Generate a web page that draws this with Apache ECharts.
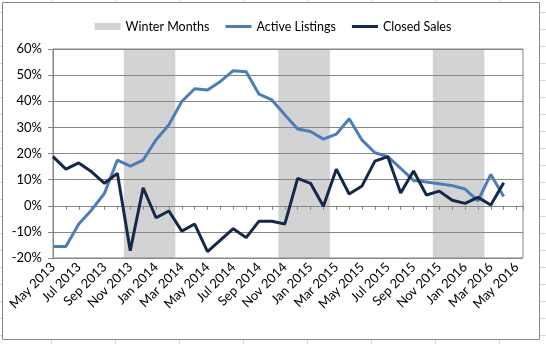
<!DOCTYPE html>
<html>
<head>
<meta charset="utf-8">
<title>Year-over-year change: Active Listings vs Closed Sales</title>
<script src="https://cdn.jsdelivr.net/npm/echarts@6/dist/echarts.min.js"></script>
<style>
  html, body { margin: 0; padding: 0; background: #ffffff; }
  #chart { width: 546px; height: 344px; }
</style>
</head>
<body>
<div id="chart"></div>
<script>
// Monthly categories, May 2013 through May 2016
const months = [
  'May 2013', 'Jun 2013', 'Jul 2013', 'Aug 2013', 'Sep 2013', 'Oct 2013', 'Nov 2013', 'Dec 2013',
  'Jan 2014', 'Feb 2014', 'Mar 2014', 'Apr 2014', 'May 2014', 'Jun 2014', 'Jul 2014', 'Aug 2014',
  'Sep 2014', 'Oct 2014', 'Nov 2014', 'Dec 2014', 'Jan 2015', 'Feb 2015', 'Mar 2015', 'Apr 2015',
  'May 2015', 'Jun 2015', 'Jul 2015', 'Aug 2015', 'Sep 2015', 'Oct 2015', 'Nov 2015', 'Dec 2015',
  'Jan 2016', 'Feb 2016', 'Mar 2016', 'Apr 2016', 'May 2016'
];

// Year-over-year change, percent (May 2013 - Apr 2016)
const activeListings = [
  -15.6, -15.6, -7.0, -1.6, 4.8, 17.5, 15.2, 17.5, 25.2, 31.0, 39.9, 44.8,
  44.3, 47.6, 51.7, 51.3, 42.7, 40.5, 34.8, 29.4, 28.4, 25.5, 27.4, 33.3,
  25.1, 20.3, 18.8, 14.3, 9.7, 9.1, 8.4, 7.7, 6.4, 1.9, 12.0, 3.5
];
const closedSales = [
  18.8, 14.0, 16.4, 13.0, 8.6, 12.4, -17.2, 6.9, -4.6, -2.0, -9.7, -7.0,
  -17.6, -13.2, -8.8, -12.2, -5.9, -5.9, -7.0, 10.5, 8.6, -0.2, 14.0, 4.5,
  7.6, 17.1, 18.8, 4.9, 13.3, 4.1, 5.6, 2.1, 0.9, 3.2, 0.3, 8.8
];

// Winter seasons (first and last month of each shaded band)
const winterSeasons = [
  ['Nov 2013', 'Feb 2014'],
  ['Nov 2014', 'Feb 2015'],
  ['Nov 2015', 'Feb 2016']
];

// Value-axis range and tick labels
const yMin = -20, yMax = 60, yStep = 10;
const labelEvery = 2;

const FONT = 'Lato, "Open Sans", "Liberation Sans", sans-serif';
const AXIS_GRAY = '#868686';
const SHEET_GRAY = '#D9D9D9';
const SHADE = '#D3D3D3';
const BLUE = '#4A7EBB';
const NAVY = '#14294A';

const chart = echarts.init(document.getElementById('chart'), null, { renderer: 'canvas' });

const lastIndex = months.length - 1;
const xMax = lastIndex + 0.5;

// faint worksheet cell edges around the chart frame
const sheetLines = [];
[51.5, 115.5, 179.5, 243.5, 307.5, 371.5, 435.5, 499.5].forEach(function (x) {
  sheetLines.push({ type: 'line', silent: true, shape: { x1: x, y1: 0, x2: x, y2: 2 }, style: { stroke: SHEET_GRAY, lineWidth: 1 } });
  sheetLines.push({ type: 'line', silent: true, shape: { x1: x, y1: 340, x2: x, y2: 344 }, style: { stroke: SHEET_GRAY, lineWidth: 1 } });
});
[12.5, 29.5, 46.5, 63.5, 80.5, 97.5, 114.5, 131.5, 148.5, 165.5, 182.5, 199.5, 216.5, 233.5, 250.5, 267.5, 284.5, 301.5, 318.5, 335.5].forEach(function (y) {
  sheetLines.push({ type: 'line', silent: true, shape: { x1: 540, y1: y, x2: 546, y2: y }, style: { stroke: SHEET_GRAY, lineWidth: 1 } });
  sheetLines.push({ type: 'line', silent: true, shape: { x1: 0, y1: y, x2: 2, y2: y }, style: { stroke: SHEET_GRAY, lineWidth: 1 } });
});

const option = {
  animation: false,
  backgroundColor: '#ffffff',
  textStyle: { fontFamily: FONT },
  legend: {
    top: 15,
    left: 'center',
    itemWidth: 26,
    itemHeight: 7,
    itemGap: 16,
    textStyle: { fontFamily: FONT, fontSize: 12.5, color: '#000000' },
    data: [
      { name: 'Winter Months', icon: 'rect', itemStyle: { color: SHADE } },
      { name: 'Active Listings', icon: 'path://M0,0H26V3H0Z', itemStyle: { color: BLUE } },
      { name: 'Closed Sales', icon: 'path://M0,0H26V3H0Z', itemStyle: { color: NAVY } }
    ]
  },
  grid: {
    left: 53,
    right: 23,
    top: 49,
    bottom: 86,
    show: true,
    borderColor: AXIS_GRAY,
    borderWidth: 1,
    backgroundColor: 'transparent'
  },
  xAxis: [
    {
      // month axis drawn along the 0% line, carrying the tick marks
      type: 'value',
      min: 0,
      max: xMax,
      interval: 1,
      position: 'bottom',
      axisLine: { show: true, onZero: true, lineStyle: { color: AXIS_GRAY, width: 1 } },
      axisTick: { show: true, length: 4, lineStyle: { color: AXIS_GRAY } },
      axisLabel: { show: false },
      splitLine: { show: false }
    },
    {
      // month labels along the bottom of the plot
      type: 'value',
      min: 0,
      max: xMax,
      interval: 1,
      position: 'bottom',
      axisLine: { show: false, onZero: false },
      axisTick: { show: false },
      splitLine: { show: false },
      axisLabel: {
        show: true,
        rotate: 45,
        margin: 7,
        fontFamily: FONT,
        fontSize: 13,
        color: '#000000',
        showMinLabel: true,
        showMaxLabel: true,
        hideOverlap: false,
        formatter: function (v) {
          if (Math.abs(v - Math.round(v)) > 1e-6) return '';
          const i = Math.round(v);
          if (i < 0 || i > lastIndex || i % labelEvery !== 0) return '';
          return months[i];
        }
      }
    }
  ],
  yAxis: {
    type: 'value',
    min: yMin,
    max: yMax,
    interval: yStep,
    axisLine: { show: true, lineStyle: { color: AXIS_GRAY, width: 1 } },
    axisTick: { show: true, length: 5, lineStyle: { color: AXIS_GRAY } },
    splitLine: { show: true, lineStyle: { color: AXIS_GRAY, width: 1 } },
    axisLabel: {
      margin: 11,
      fontFamily: FONT,
      fontSize: 13,
      color: '#000000',
      formatter: function (v) { return v + '%'; }
    }
  },
  series: [
    {
      name: 'Winter Months',
      type: 'custom',
      xAxisIndex: 0,
      z: -1,
      silent: true,
      itemStyle: { color: SHADE },
      data: winterSeasons.map(function (s) {
        return [months.indexOf(s[0]), months.indexOf(s[1])];
      }),
      renderItem: function (params, api) {
        const p0 = api.coord([api.value(0) - 0.5, yMax]);
        const p1 = api.coord([api.value(1) + 0.5, yMin]);
        return {
          type: 'rect',
          shape: { x: p0[0], y: p0[1], width: p1[0] - p0[0], height: p1[1] - p0[1] },
          style: { fill: SHADE }
        };
      }
    },
    {
      name: 'Active Listings',
      type: 'line',
      xAxisIndex: 0,
      symbol: 'none',
      showSymbol: false,
      color: BLUE,
      lineStyle: { color: BLUE, width: 3 },
      data: activeListings.map(function (v, i) { return [i, v]; })
    },
    {
      name: 'Closed Sales',
      type: 'line',
      xAxisIndex: 0,
      symbol: 'none',
      showSymbol: false,
      color: NAVY,
      lineStyle: { color: NAVY, width: 3 },
      data: closedSales.map(function (v, i) { return [i, v]; })
    }
  ],
  graphic: [
    {
      // chart frame
      type: 'rect',
      silent: true,
      z: 100,
      shape: { x: 2.5, y: 2.5, width: 537, height: 337 },
      style: { fill: null, stroke: AXIS_GRAY, lineWidth: 1 }
    }
  ].concat(sheetLines)
};

chart.setOption(option);
</script>
</body>
</html>
